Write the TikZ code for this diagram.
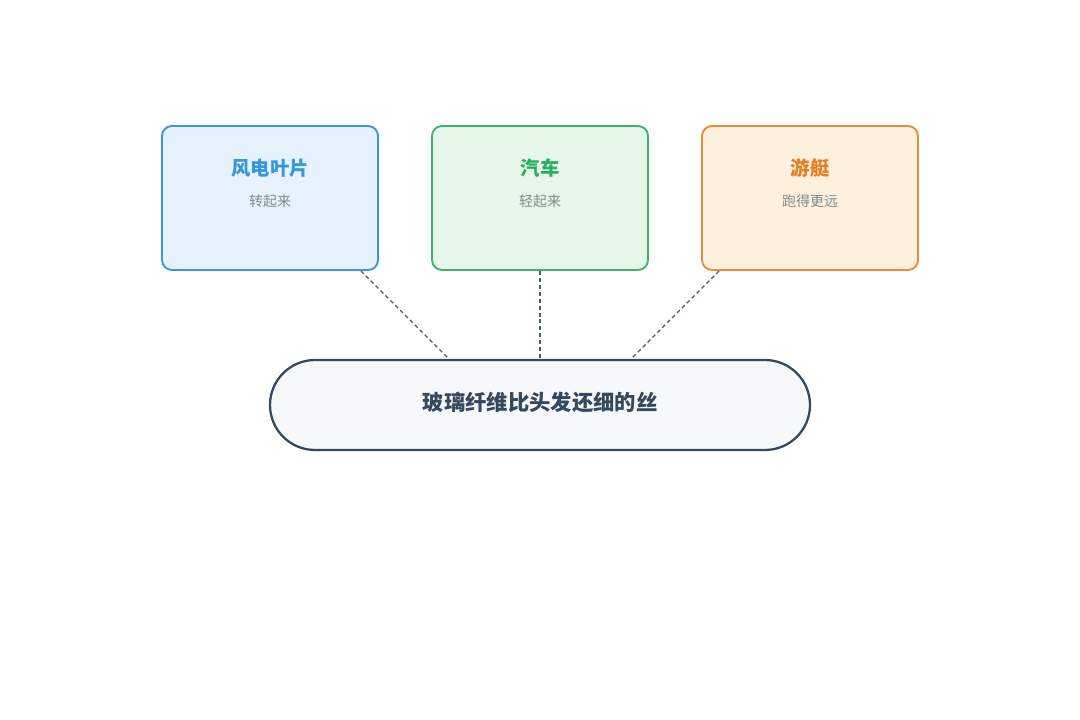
\documentclass[tikz,border=0pt]{standalone}
\usepackage{fontspec}
\setmainfont{Noto Sans CJK SC}
\usetikzlibrary{calc}
\definecolor{windline}{HTML}{3498DB}
\definecolor{windfill}{HTML}{E6F2FC}
\definecolor{carline}{HTML}{3BB56C}
\definecolor{carfill}{HTML}{E6F6E8}
\definecolor{carText}{HTML}{27AE60}
\definecolor{boatline}{HTML}{EE8A35}
\definecolor{boatfill}{HTML}{FEF0DE}
\definecolor{boatText}{HTML}{E67E22}
\definecolor{subgray}{HTML}{7F8C8D}
\definecolor{darkslate}{HTML}{34495E}
\definecolor{pillfill}{HTML}{F6F8FA}
\tikzstyle{usecase}=[rectangle,rounded corners=7.5pt,line width=1.4pt,minimum width=162pt,minimum height=108pt,inner sep=0pt]
\tikzstyle{title}=[font=\bfseries\fontsize{14.5pt}{16pt}\selectfont]
\tikzstyle{sub}=[font=\fontsize{10.5pt}{12pt}\selectfont,text=subgray]
\tikzstyle{link}=[draw=darkslate!90,line width=0.9pt,dash pattern=on 3pt off 2.2pt]

\begin{document}
\begin{tikzpicture}[x=0.75pt,y=-0.75pt]
      \useasboundingbox (0,0) rectangle (1080,720);

      % three uses
      \node[usecase,draw=windline,fill=windfill] (blade) at (270,198) {};
      \node[usecase,draw=carline,fill=carfill] (car) at (540,198) {};
      \node[usecase,draw=boatline,fill=boatfill] (yacht) at (810,198) {};

      \node[title,text=windline] (bladeT) at (270,168) {风电叶片};
      \node[sub] (bladeS) at (270,201) {转起来};
      \node[title,text=carText] (carT) at (540,168) {汽车};
      \node[sub] (carS) at (540,201) {轻起来};
      \node[title,text=boatText] (yachtT) at (810,168) {游艇};
      \node[sub] (yachtS) at (810,201) {跑得更远};

      % the fibre
      \node[rectangle,rounded corners=33.75pt,draw=darkslate,fill=pillfill,line width=1.7pt,
            minimum width=405pt,minimum height=67.5pt,inner sep=0pt] (fibre) at (540,405) {};
      \node[font=\bfseries\fontsize{16pt}{18pt}\selectfont,text=darkslate] (fibreT) at (540,402) {玻璃纤维比头发还细的丝};

      \draw[link] ($(blade.south east)+(-18,0)$) -- ($(fibre.north west)+(180,0)$);
      \draw[link] (car.south) -- (fibre.north);
      \draw[link] ($(yacht.south west)+(18,0)$) -- ($(fibre.north east)+(-180,0)$);
    \end{tikzpicture}
\end{document}
